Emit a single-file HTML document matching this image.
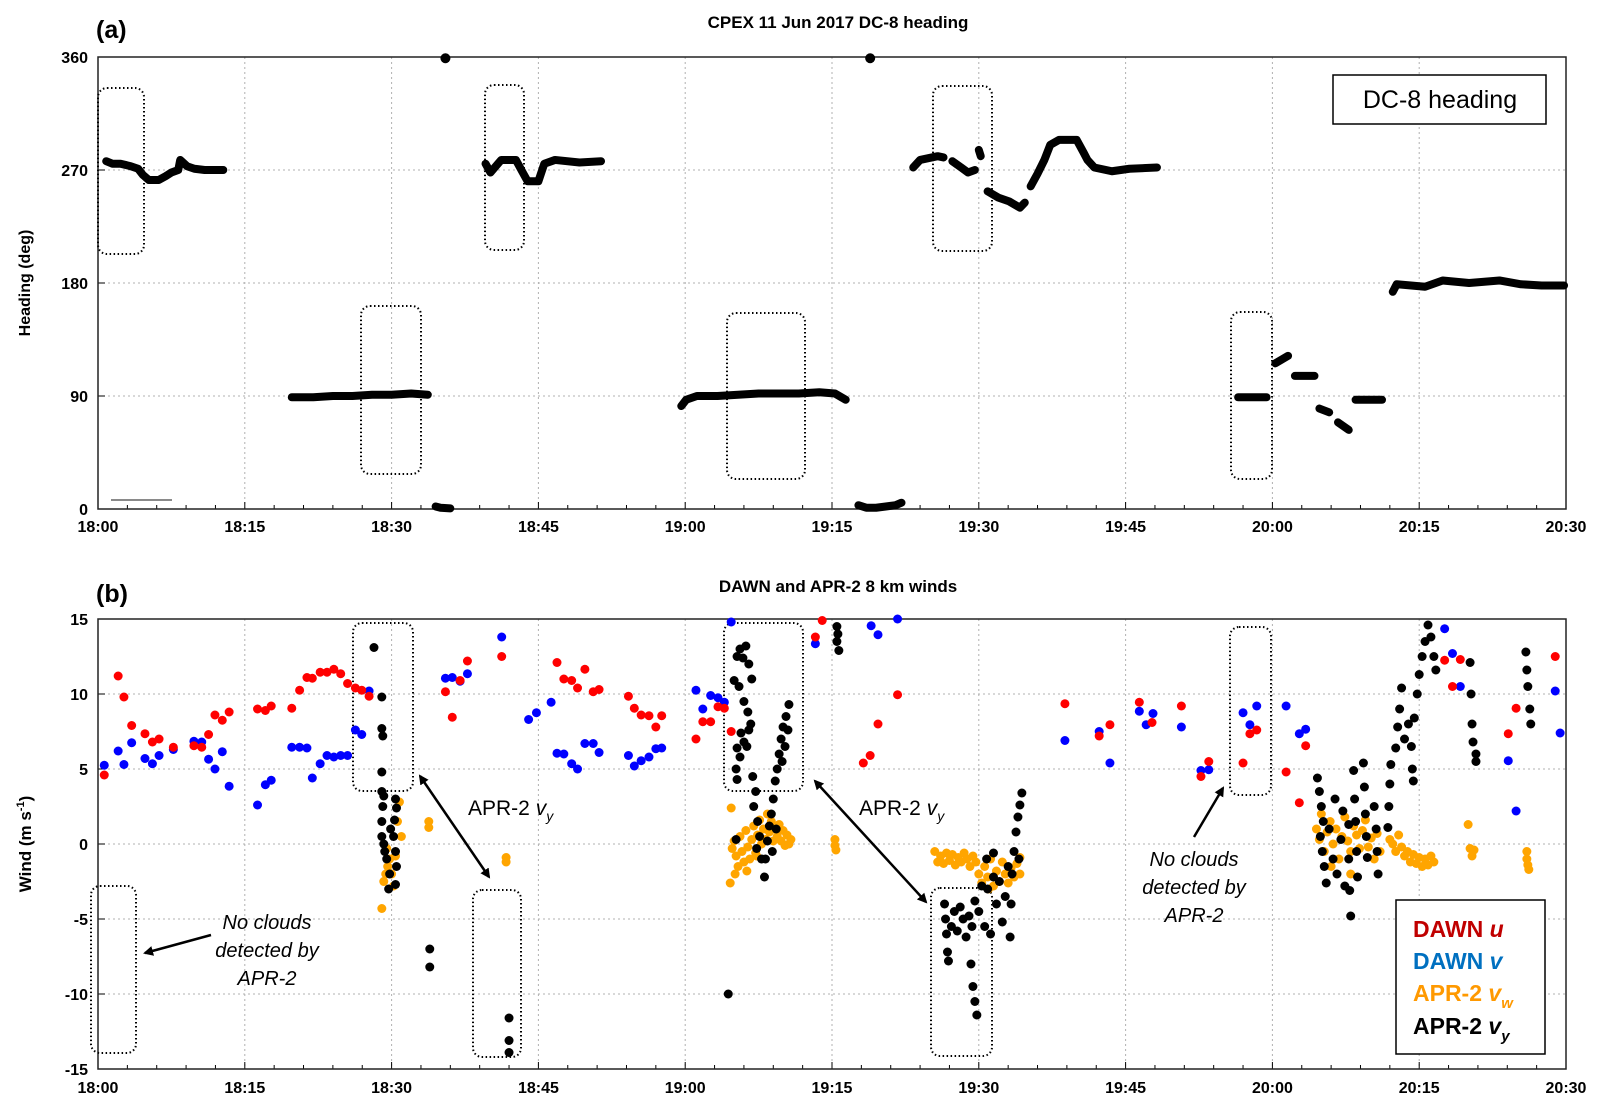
<!DOCTYPE html>
<html><head><meta charset="utf-8"><style>
body{margin:0;background:#fff}
svg text{font-family:"Liberation Sans",Arial,sans-serif}
</style></head><body>
<svg id="chart" width="1607" height="1114" viewBox="0 0 1607 1114" xmlns="http://www.w3.org/2000/svg">
<rect width="1607" height="1114" fill="#fff"/>
<g id="gA"></g>
<g id="gB"></g>
</svg>
<script>
// ---- time ticks (minutes after 18:00) ----
const xTickMinutes = [0,15,30,45,60,75,90,105,120,135,150];
const xTickLabels = ["18:00","18:15","18:30","18:45","19:00","19:15","19:30","19:45","20:00","20:15","20:30"];
const headingTicks = [0,90,180,270,360];
const windTicks = [-15,-10,-5,0,5,10,15];
// ---- heading series: segments of [t, deg] ----
const headingSegments = [
 [[0.84,277],[1.47,275],[2.3,275],[3.35,273],[4.1,271],[4.6,266],[5.2,262],[6.2,262],[6.9,265],[7.5,268],[8.2,270],[8.4,278],[9.1,273],[9.85,271],[10.9,270],[12.8,270]],
 [[19.8,89],[22,89],[24,90],[26,90],[28,91],[30,91],[32,92],[33.7,91]],
 [[34.5,2],[35,1],[36,0.5]],
 [[39.6,275],[40.1,268],[41.2,278],[42.7,278],[43.4,268],[43.9,261],[45.0,261],[45.6,275],[46.7,278],[49.2,276],[51.4,277]],
 [[52.0,264]],
 [[59.6,82],[60.1,87],[61.2,90],[63.3,90],[65.4,91],[67.5,92],[69.6,92],[71.6,92],[73.7,93],[75.3,92],[76.4,87]],
 [[77.7,3],[78.5,1],[79.5,1],[80.5,2],[81.5,3],[82.1,5]],
 [[83.3,272],[84.0,278],[85.8,281],[86.4,280]],
 [[86.8,257]],
 [[87.3,277],[88.2,272],[88.9,268],[89.6,270]],
 [[90.0,286],[90.2,281]],
 [[90.9,253],[92.0,248],[93.1,245],[94.2,240],[94.7,244]],
 [[95.3,257],[96.0,267],[96.7,278],[97.3,290],[98.2,294],[100.0,294],[100.7,284],[101.1,278],[101.8,272],[103.6,269],[105.4,271],[108.2,272]],
 [[116.5,89],[117.5,89],[118.5,89],[119.4,89]],
 [[120.3,116],[121.6,122]],
 [[122.3,106],[123.3,106],[124.3,106]],
 [[124.8,80],[125.8,77]],
 [[126.7,69],[127.8,63]],
 [[128.5,87],[129.8,87],[131.2,87]],
 [[132.3,173],[132.7,179],[135.6,177],[137.4,182],[140.1,180],[143.2,182],[145.4,179],[147.5,178],[149.8,178]]
];
const headingSingles = [[35.5,359],[78.9,359]];
// ---- DAWN u ----
const dawnU_t = [0.64,2.06,2.65,3.44,4.8,5.56,6.24,7.7,9.8,10.6,11.3,11.95,12.7,13.4,16.3,17.1,17.7,19.8,20.6,21.35,21.9,22.7,23.4,24.1,24.8,25.5,26.3,26.95,27.7,35.5,36.2,37.0,37.75,41.25,46.9,47.6,48.4,49.0,49.75,50.6,51.2,54.2,54.8,55.5,56.3,57.0,57.6,61.1,61.8,62.6,63.35,64.0,64.7,73.3,74.0,78.2,78.9,79.7,81.7,98.8,102.3,103.4,106.4,107.7,110.7,112.7,113.5,117.0,117.7,118.4,121.4,122.75,123.4,137.6,139.2,138.4,144.1,144.9,148.9];
const dawnU_v = [4.6,11.2,9.8,7.9,7.35,6.8,7.0,6.45,6.55,6.45,7.3,8.6,8.25,8.8,9.0,8.9,9.2,9.05,10.25,11.1,11.05,11.45,11.45,11.65,11.35,10.7,10.4,10.25,9.85,10.15,8.45,10.9,12.2,12.5,12.1,11.0,10.9,10.4,11.65,10.15,10.3,9.85,9.05,8.6,8.55,7.8,8.55,7.0,8.15,8.15,9.15,9.05,7.5,13.8,14.9,5.4,5.9,8.0,9.95,9.35,7.2,7.95,9.45,8.1,9.2,4.5,5.5,5.4,7.35,7.6,4.8,2.75,6.55,12.25,12.3,10.5,7.35,9.05,12.5];
// ---- DAWN v ----
const dawnV_t = [0.64,2.06,2.65,3.44,4.8,5.56,6.24,7.7,9.8,10.6,11.3,11.95,12.7,13.4,16.3,17.1,17.7,19.8,20.6,21.35,21.9,22.7,23.4,24.1,24.8,25.5,26.3,26.95,27.7,35.5,36.2,37.0,37.75,41.25,44.0,44.8,46.3,46.9,47.6,48.4,49.0,49.75,50.6,51.2,54.2,54.8,55.5,56.3,57.0,57.6,61.1,61.8,62.6,63.35,64.0,64.7,73.3,79.0,79.7,81.7,98.8,102.3,103.4,106.4,107.1,107.8,110.7,112.7,113.5,117.0,117.7,118.4,121.4,122.75,123.4,137.6,138.4,139.2,144.1,144.9,148.9,149.4];
const dawnV_v = [5.25,6.2,5.3,6.75,5.7,5.35,5.9,6.3,6.85,6.8,5.65,5.0,6.15,3.85,2.6,3.95,4.25,6.45,6.45,6.4,4.4,5.35,5.9,5.8,5.9,5.9,7.6,7.3,10.2,11.05,11.1,10.85,11.35,13.8,8.3,8.75,9.45,6.05,6.0,5.35,5.0,6.7,6.7,6.1,5.9,5.2,5.55,5.8,6.35,6.4,10.25,9.0,9.9,9.75,9.45,14.8,13.35,14.55,13.95,15.0,6.9,7.5,5.4,8.85,7.95,8.7,7.8,4.9,4.95,8.75,7.95,9.2,9.2,7.35,7.65,14.35,12.7,10.5,5.55,2.2,10.2,7.4];
// ---- APR-2 vw ----
const vw_t = [29.0,29.2,29.4,29.6,29.8,30.0,30.4,30.6,30.8,31.0,29.5,30.2,33.8,33.8,41.7,41.7,64.6,64.7,64.8,65.0,65.2,65.4,65.6,65.8,66.0,66.2,66.4,66.6,66.8,67.0,67.2,67.4,67.6,67.8,68.0,68.2,68.4,68.6,68.8,69.0,69.2,69.4,69.6,69.8,70.0,70.2,70.4,70.6,70.8,65.1,66.3,67.3,75.3,75.3,75.4,85.5,85.8,86.1,86.4,86.7,87.0,87.3,87.6,87.9,88.2,88.5,88.8,89.1,89.4,89.7,90.0,90.3,90.6,90.9,91.2,91.5,91.8,92.1,92.4,92.7,93.0,93.3,93.6,93.9,94.2,94.2,91.0,124.5,124.8,125.0,125.3,125.6,125.9,126.2,126.5,126.8,127.1,127.4,127.7,128.0,128.3,128.6,128.9,129.2,129.5,129.8,130.1,130.4,130.7,131.0,126.0,128.0,132.0,132.3,132.6,132.9,133.2,133.5,133.8,134.1,134.4,134.7,135.0,135.3,135.6,135.9,136.2,136.5,140.0,140.2,140.4,140.6,146.0,146.0,146.1,146.2];
const vw_v = [-4.3,-2.5,-2.0,-1.5,-1.0,-2.0,-0.8,1.5,2.8,0.5,-0.3,-2.8,1.1,1.5,-1.2,-0.9,-2.6,2.4,-0.3,0.2,-0.8,-1.5,0.5,-0.5,-1.2,0.9,-0.2,-1.0,0.3,1.2,-0.6,0.6,1.6,0.0,1.0,0.3,2.0,0.8,1.5,0.2,1.0,0.5,1.3,0.2,0.9,-0.1,0.6,0.0,0.3,-2.0,-1.8,-0.8,-0.1,0.3,-0.4,-0.5,-1.2,-0.8,-1.3,-0.6,-1.1,-0.7,-1.4,-0.9,-1.2,-0.6,-1.0,-1.5,-0.8,-1.2,-2.0,-2.6,-1.5,-2.2,-1.0,-2.8,-1.8,-2.5,-1.2,-2.0,-2.6,-1.6,-2.2,-1.3,-2.0,-0.9,-3.0,1.0,0.3,2.0,-0.5,0.8,1.5,0.0,1.0,-1.0,0.5,1.8,0.2,-0.5,1.2,0.6,-0.3,0.9,1.6,-0.2,0.4,-1.0,0.7,-0.5,-1.5,-2.0,0.3,0.0,-0.5,0.6,-0.2,-0.8,-0.5,-1.2,-0.7,-1.3,-0.9,-1.5,-1.0,-1.4,-0.8,-1.2,1.3,-0.3,-0.8,-0.4,-0.5,-1.0,-1.4,-1.7];
// ---- APR-2 vy ----
const vy_t = [28.2,29.0,29.0,29.1,29.0,29.0,29.2,29.1,29.0,29.0,29.2,29.3,29.5,30.4,30.4,30.5,30.3,30.2,30.4,30.5,29.8,29.9,29.7,33.9,33.9,42.0,42.0,42.0,64.4,
 65.0,65.3,65.6,65.9,66.2,66.5,66.8,65.5,66.0,66.4,66.7,65.7,66.0,65.6,65.2,66.3,66.9,67.2,67.0,67.4,67.6,67.3,67.8,68.1,66.5,65.3,65.3,65.2,
 68.2,68.4,68.6,68.8,69.0,69.2,69.4,69.6,69.8,70.0,70.3,70.6,70.2,70.5,69.9,68.9,69.3,75.5,75.5,75.7,75.6,
 86.5,86.6,86.7,86.8,86.9,87.2,87.5,87.8,88.1,88.4,88.7,89.0,89.2,89.4,89.6,89.8,89.3,89.6,90.0,90.3,90.6,90.9,91.2,91.5,91.8,92.1,92.4,92.7,93.0,93.2,93.4,93.6,93.8,94.0,94.2,94.4,94.1,93.3,90.8,91.5,
 124.6,124.8,125.0,125.2,124.9,125.1,125.3,125.5,125.8,126.2,126.6,127.0,127.4,127.8,127.8,127.9,128.0,128.3,128.4,128.5,128.6,128.7,129.3,129.4,129.5,129.6,129.7,130.4,130.6,130.7,130.8,126.4,127.2,
 131.8,131.9,132.0,132.1,132.6,132.8,133.0,133.2,133.5,133.9,134.2,134.3,134.4,134.5,134.8,135.0,135.3,135.6,135.9,136.2,136.5,136.7,140.2,140.3,140.4,140.5,140.8,140.8,145.9,146.0,146.1,146.3,146.4];
const vy_v = [13.1,9.8,7.7,7.2,4.8,3.5,3.2,2.5,1.5,0.5,0.0,-0.5,-1.0,-2.7,3.0,2.4,1.6,0.5,-0.5,-1.5,-2.0,1.0,-3.0,-7.0,-8.2,-11.6,-13.1,-13.9,-10.0,
 10.9,12.5,13.0,12.4,13.2,12.0,11.0,10.5,9.5,8.8,8.0,7.4,6.8,5.8,5.0,6.5,4.5,3.5,2.5,1.5,0.5,-0.3,-1.0,-2.2,7.6,6.4,4.3,0.3,
 -1.0,0.2,1.2,2.0,3.0,4.2,5.0,6.0,7.0,7.8,8.5,9.3,6.5,7.6,5.5,-0.5,1.0,14.5,13.5,12.9,14.0,
 -4.0,-5.0,-6.0,-7.2,-7.8,-5.5,-4.5,-5.8,-4.2,-5.0,-6.2,-4.8,-8.0,-9.5,-10.5,-11.4,-5.5,-3.8,-4.5,-2.8,-5.5,-3.0,-6.0,-2.2,-4.0,-2.5,-5.2,-3.5,-1.5,-6.2,-2.0,-0.5,0.8,1.8,2.6,3.4,-1.0,-4.0,-1.0,-0.6,
 4.4,3.5,2.5,1.5,0.5,-0.5,-1.5,-2.6,1.0,-1.0,-2.0,0.3,-2.8,1.3,-1.0,-3.1,-4.8,4.9,3.0,1.5,-0.5,-2.2,5.4,3.8,2.0,0.5,-0.9,2.5,1.0,-0.5,-2.0,3.0,2.2,
 1.1,2.5,4.0,5.3,6.4,7.8,9.0,10.4,7.0,8.0,6.5,5.0,4.2,8.4,10.0,11.3,12.5,13.5,14.6,13.8,12.5,11.6,12.1,10.0,8.0,6.8,6.0,5.5,12.8,11.6,10.5,9.0,8.0];

const NS="http://www.w3.org/2000/svg";
const X0=98, X1=1566;
function xT(t){return X0+(t/150)*(X1-X0);}
const A={top:57,bot:509}; function yA(d){return A.bot-(d/360)*(A.bot-A.top);}
const B={top:619,bot:1069}; function yB(v){return B.bot-((v+15)/30)*(B.bot-B.top);}
function el(tag,attrs,parent){const e=document.createElementNS(NS,tag);for(const k in attrs)e.setAttribute(k,attrs[k]);parent.appendChild(e);return e;}
function txt(s,attrs,parent){const e=el('text',attrs,parent);e.textContent=s;return e;}

function axes(g,top,bot,yT,yf,tickLabelY,name){
  xTickMinutes.forEach((m,i)=>{
    if(i>0&&i<xTickMinutes.length-1){const l=el('line',{x1:xT(m),x2:xT(m),y1:top,y2:bot,stroke:'#b0b0b0','stroke-width':1,'stroke-dasharray':'2,3'},g);
      
      }
    const t=txt(xTickLabels[i],{x:xT(m),y:tickLabelY,'text-anchor':'middle','font-size':16,'font-weight':'bold'},g);
    
    
  });
  for(let m=3;m<150;m+=3){ if(m%15===0) { el('line',{x1:xT(m),x2:xT(m),y1:bot,y2:bot-7,stroke:'#000','stroke-width':1},g); continue;}
    const tk=el('line',{x1:xT(m),x2:xT(m),y1:bot,y2:bot-4,stroke:'#000','stroke-width':1},g);
    
    }
  yT.forEach((v,i)=>{
    if(i>0&&i<yT.length-1){const l=el('line',{x1:X0,x2:X1,y1:yf(v),y2:yf(v),stroke:'#b0b0b0','stroke-width':1,'stroke-dasharray':'2,3'},g);
      
      }
    el('line',{x1:X0,x2:X0+7,y1:yf(v),y2:yf(v),stroke:'#000','stroke-width':1},g);
    const t=txt(String(v),{x:X0-10,y:yf(v)+6,'text-anchor':'end','font-size':16,'font-weight':'bold'},g);
    
    
  });
  const f=el('rect',{x:X0,y:top,width:X1-X0,height:bot-top,fill:'none',stroke:'#222','stroke-width':1.5},g);
  
  
}
function dbox(g,x1,y1,x2,y2){const r=el('rect',{x:x1,y:y1,width:x2-x1,height:y2-y1,rx:9,fill:'none',stroke:'#000','stroke-width':2,'stroke-dasharray':'1.5,2.5'},g);
  
  }
function dots(g,ts,vs,yf,color,name){ts.forEach((t,i)=>{const c=el('circle',{cx:xT(t),cy:yf(vs[i]),r:4.5,fill:color},g);
  
  });}

// ---------- Panel A ----------
const gA=document.getElementById('gA');
axes(gA,A.top,A.bot,headingTicks,yA,532,'panel-a');
txt('(a)',{x:96,y:38,'font-size':25,'font-weight':'bold'},gA);
txt('CPEX 11 Jun 2017 DC-8 heading',{x:838,y:28,'text-anchor':'middle','font-size':17,'font-weight':'bold'},gA);
txt('Heading (deg)',{x:0,y:0,'font-size':16,'font-weight':'bold','text-anchor':'middle',transform:'translate(30,283) rotate(-90)'},gA);
el('line',{x1:111,x2:172,y1:500,y2:500,stroke:'#444','stroke-width':1.2},gA);
[[98,88,144,254],[485,85,524,250],[933,86,992,251],[361,306,421,474],[727,313,805,479],[1231,312,1272,479]].forEach(b=>dbox(gA,...b));
headingSegments.forEach(seg=>{
  const p=el('polyline',{points:seg.map(d=>xT(d[0])+','+yA(d[1])).join(' '),fill:'none',stroke:'#000','stroke-width':8,'stroke-linecap':'round','stroke-linejoin':'round'},gA);
  
  
});
headingSingles.forEach(d=>{const c=el('circle',{cx:xT(d[0]),cy:yA(d[1]),r:5,fill:'#000'},gA);
  
  });
const lgA=el('rect',{x:1333,y:75,width:213,height:49,fill:'#fff',stroke:'#000','stroke-width':1.5},gA);


txt('DC-8 heading',{x:1440,y:108,'text-anchor':'middle','font-size':25},gA);

// ---------- Panel B ----------
const gB=document.getElementById('gB');
axes(gB,B.top,B.bot,windTicks,yB,1093,'panel-b');
txt('(b)',{x:96,y:602,'font-size':25,'font-weight':'bold'},gB);
txt('DAWN and APR-2 8 km winds',{x:838,y:592,'text-anchor':'middle','font-size':17,'font-weight':'bold'},gB);
const yt=txt('Wind (m s',{x:0,y:0,'font-size':17,'font-weight':'bold','text-anchor':'middle',transform:'translate(31,844) rotate(-90)'},gB);

const sp=el('tspan',{'font-size':11,dy:-7},yt);sp.textContent='-1';
const sp2=el('tspan',{dy:7},yt);sp2.textContent=')';
[[353,623,413,791],[724,623,803,791],[1230,627,1271,795],[91,886,136,1053],[473,890,521,1057],[931,888,992,1056]].forEach(b=>dbox(gB,...b));
dots(gB,vw_t,vw_v,yB,'#ffa500','apr2-vw-point');
dots(gB,dawnV_t,dawnV_v,yB,'#0000ff','dawn-v-point');
dots(gB,dawnU_t,dawnU_v,yB,'#ff0000','dawn-u-point');
dots(gB,vy_t,vy_v,yB,'#000','apr2-vy-point');
const defs=el('defs',{},gB);
const mk=el('marker',{id:'ah',markerWidth:10,markerHeight:10,refX:8,refY:5,orient:'auto-start-reverse',markerUnits:'userSpaceOnUse'},defs);
el('path',{d:'M0,0 L10,5 L0,10 z',fill:'#000'},mk);
function arrow(x1,y1,x2,y2,both){const l=el('line',{x1,y1,x2,y2,stroke:'#000','stroke-width':2.5,'marker-end':'url(#ah)'},gB);if(both)l.setAttribute('marker-start','url(#ah)');
  
  }
arrow(420,776,489,877,true);arrow(815,781,926,902,true);arrow(1194,837,1223,788,false);arrow(211,935,145,953,false);
function vyLabel(x,y){const t=txt('APR-2 ',{x,y,'font-size':21},gB);
  
  const a=el('tspan',{'font-style':'italic'},t);a.textContent='v';const b=el('tspan',{'font-size':14,dy:6,'font-style':'italic'},t);b.textContent='y';}
vyLabel(468,815);vyLabel(859,815);
function noClouds(x,y){['No clouds','detected by','APR-2'].forEach((s,i)=>{const t=txt(s,{x,y:y+i*28,'text-anchor':'middle','font-size':20,'font-style':'italic'},gB);
  });}
noClouds(267,929);noClouds(1194,866);
const lgB=el('rect',{x:1396,y:900,width:149,height:154,fill:'#fff',stroke:'#000','stroke-width':1.5},gB);


function legendEntry(y,color,main,v,sub,name){const t=txt(main,{x:1413,y,'font-size':23,'font-weight':'bold',fill:color},gB);
  
  
  const a=el('tspan',{'font-style':'italic'},t);a.textContent=v;
  if(sub){const b=el('tspan',{'font-size':15,dy:7,'font-style':'italic'},t);b.textContent=sub;}}
legendEntry(937,'#c00000','DAWN ','u','','legend-entry-dawn-u');
legendEntry(969,'#0070c0','DAWN ','v','','legend-entry-dawn-v');
legendEntry(1001,'#ff9900','APR-2 ','v','w','legend-entry-apr2-vw');
legendEntry(1034,'#000000','APR-2 ','v','y','legend-entry-apr2-vy');
</script>
</body></html>
